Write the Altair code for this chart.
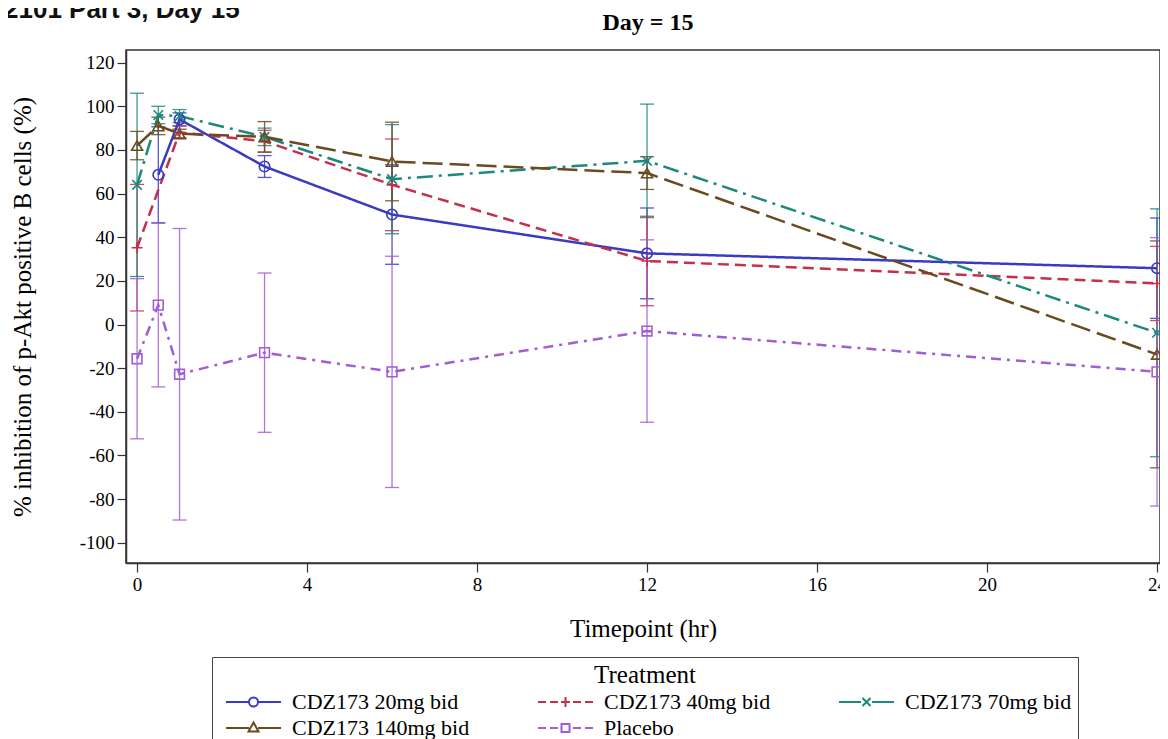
import altair as alt
import pandas as pd

# ---------------- data ----------------
treatments = ["CDZ173 20mg bid", "CDZ173 40mg bid", "CDZ173 70mg bid",
              "CDZ173 140mg bid", "Placebo"]
timepoints = [0, 0.5, 1, 3, 6, 12, 24]

mean_20 = [None, 68.6, 94.0, 72.4, 50.4, 32.6, 25.8]
sd_20 = [None, 22.0, 3.0, 5.0, 22.8, 20.8, 23.0]
mean_40 = [35.2, None, 88.0, 84.0, 64.0, 29.1, 18.8]
sd_40 = [29.0, None, 3.0, 5.0, 21.0, 20.5, 17.0]
mean_70 = [64.0, 96.0, 95.5, 86.0, 66.6, 75.0, -3.8]
sd_70 = [42.0, 4.0, 3.0, 4.0, 25.0, 26.0, 56.8]
mean_140 = [82.0, 91.0, 87.5, 86.0, 74.7, 69.4, -13.7]
sd_140 = [6.5, 4.0, 2.0, 7.0, 18.0, 7.5, 52.0]
mean_pl = [-15.7, 8.9, -22.8, -12.9, -21.7, -3.0, -21.7]
sd_pl = [36.7, 37.5, 66.8, 36.5, 53.0, 41.8, 61.5]

x_ticks = [0, 4, 8, 12, 16, 20, 24]
y_ticks = [-100, -80, -60, -40, -20, 0, 20, 40, 60, 80, 100, 120]

# ---------------- styles ----------------
colors = ["#3a3ac2", "#c4304c", "#1b897e", "#6a4a1f", "#a15dd3"]
dashes = [[1, 0], [11, 6], [16, 6, 3, 6], [20, 7], [10, 6, 3, 6]]
marker_shapes = ["circle", "M-1,0H1M0,-1V1", "M-1,-1L1,1M-1,1L1,-1",
                 "triangle-up", "square"]
marker_sizes = [110, 120, 90, 120, 95]
legend_paths = [
    "M-0.3,0H2M2.9,0H5.2M2.9,0A0.45,0.45 0 1,1 2,0A0.45,0.45 0 1,1 2.9,0",
    "M-0.3,0H0.5M0.9,0H1.7M2,0H2.9M2.45,-0.5V0.5M3.2,0H4M4.4,0H5.2",
    "M-0.3,0H1.9M2.05,-0.4L2.85,0.4M2.05,0.4L2.85,-0.4M3,0H5.2",
    "M-0.3,0H2M2.9,0H5.2M2.45,-0.55L2.95,0.35L1.95,0.35Z",
    "M-0.3,0H0.5M0.9,0H1.7M2.05,-0.4H2.85V0.4H2.05ZM3.2,0H4M4.4,0H5.2",
]

rows = []
for name, means, sds in zip(treatments,
                            [mean_20, mean_40, mean_70, mean_140, mean_pl],
                            [sd_20, sd_40, sd_70, sd_140, sd_pl]):
    for t, m, s in zip(timepoints, means, sds):
        if m is None:
            continue
        rows.append({"Treatment": name, "Timepoint": t, "Mean": m,
                     "Lo": m - s, "Hi": m + s})
df = pd.DataFrame(rows)

serif = "Liberation Serif"
xscale = alt.Scale(domain=[-0.26, 24.07], nice=False, zero=False)
yscale = alt.Scale(domain=[-109.3, 125.8], nice=False, zero=False)

y_title = "% inhibition of p-Akt positive B cells (%)"
x_axis = alt.Axis(values=x_ticks, title="Timepoint (hr)", labelExpr="'' + datum.value",
                  titlePadding=22)
y_axis = alt.Axis(values=y_ticks, title=y_title, labelExpr="'' + datum.value",
                  titlePadding=44)

X = alt.X("Timepoint:Q", scale=xscale, axis=x_axis)
Y = alt.Y("Mean:Q", scale=yscale, axis=y_axis)

base = alt.Chart(df)

err_layers, line_layers, marker_layers = [], [], []
for name, col, dsh, shp, sz in zip(treatments, colors, dashes, marker_shapes,
                                   marker_sizes):
    sub = base.transform_filter(alt.datum.Treatment == name)
    err_layers.append(
        sub.mark_errorbar(color=col, ticks={"size": 14, "opacity": 0.85},
                          rule={"opacity": 0.85}, thickness=1.3)
        .encode(x=X, y=alt.Y("Lo:Q", scale=yscale, axis=y_axis, title=y_title),
                y2="Hi:Q")
    )
    line_layers.append(
        sub.mark_line(color=col, strokeWidth=2.5, strokeDash=dsh)
        .encode(x=X, y=Y, order="Timepoint:Q")
    )
    marker_layers.append(
        sub.mark_point(shape=shp, filled=False, size=sz, strokeWidth=1.6,
                       opacity=1, color=col)
        .encode(x=X, y=Y)
    )

legend = alt.Legend(
    title="Treatment", orient="none", legendX=86, legendY=607, columns=3,
    direction="horizontal",
    titleAnchor="middle", titleFont=serif, titleFontSize=25, titleFontWeight="normal",
    titleColor="#000", titlePadding=3,
    labelFont=serif, labelFontSize=22, labelColor="#000", labelOffset=52,
    labelLimit=400,
    symbolSize=400, symbolStrokeWidth=2, symbolFillColor="transparent",
    strokeColor="#444", padding=6, rowPadding=4, columnPadding=60,
)

# legend-only layer (no rows drawn): stroke + shape give the legend entries
legend_layer = base.transform_filter(alt.datum.Timepoint < -50).mark_point(
    filled=False, strokeWidth=2, opacity=1
).encode(
    x=X, y=Y,
    stroke=alt.Stroke("Treatment:N", scale=alt.Scale(domain=treatments, range=colors),
                      legend=legend),
    shape=alt.Shape("Treatment:N",
                    scale=alt.Scale(domain=treatments, range=legend_paths),
                    legend=legend),
)

header = alt.Chart(alt.Data(values=[{"t": "2101 Part 3, Day 15"}])).mark_text(
    align="left", baseline="alphabetic", font="Liberation Sans",
    fontSize=26, fontWeight="bold", color="#111"
).encode(x=alt.value(-122), y=alt.value(-32), text="t:N")

panel_title = alt.Chart(alt.Data(values=[{"t": "Day = 15"}])).mark_text(
    align="center", baseline="alphabetic", font=serif,
    fontSize=24, fontWeight="bold", color="#000"
).encode(x=alt.value(522), y=alt.value(-20), text="t:N")

chart = alt.layer(*err_layers, *line_layers, *marker_layers, legend_layer, header,
                  panel_title).properties(
    width=1034, height=513,
    autosize=alt.AutoSizeParams(type="none"),
    padding={"left": 118, "top": 42, "right": 0, "bottom": 176},
).configure_view(
    stroke="#333", strokeWidth=1.5
).configure_axis(
    grid=False, labelFont=serif, labelFontSize=19, labelColor="#000",
    titleFont=serif, titleFontSize=25, titleFontWeight="normal", titleColor="#000",
    tickSize=9, tickColor="#333", tickWidth=1.2, domainColor="#333", domainWidth=1.5,
    labelPadding=3,
).configure_legend(
    labelFont=serif, titleFont=serif, labelLimit=400
)

chart.save("out.html", embed_options={"renderer": "svg", "actions": False})
